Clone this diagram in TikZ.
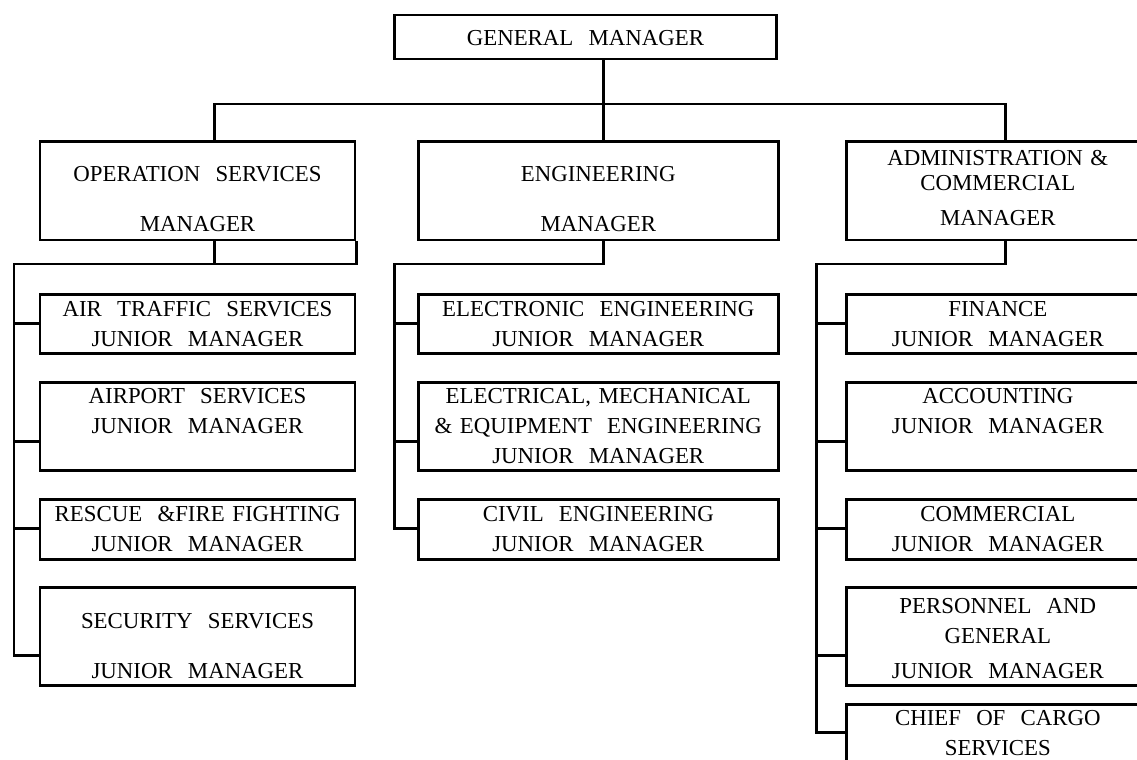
\documentclass[tikz,border=0pt]{standalone}
\usepackage{fontspec}
\setmainfont{Liberation Serif}
\newcommand\chartfont{\fontsize{13}{17.07}\selectfont}

\tikzset{
	box/.style={draw, line width=1.7pt, inner sep=0pt, align=center, font=\chartfont},
	link/.style={line width=1.7pt},
	leftcol/.style={text width=63mm},
	midcol/.style={text width=72mm},
	rightcol/.style={text width=60.46mm},
	% first baseline from the top / rest of the box
	rowfit/.style 2 args={text height=#1, text depth=#2}
}

\begin{document}
\begin{tikzpicture}[x=0.2mm, y=-0.2mm]
		%%%%% START %%%%%
		\useasboundingbox (0,0) rectangle (1137,760);
		\clip (0,0) rectangle (1137,760);
		
		\node[box, text width=76.48mm, rowfit={6mm}{2.8mm}] (gm) at (585.5,37) {GENERAL~~MANAGER};
		
		\node[box, leftcol, rowfit={8.04mm}{11.66mm}] (op) at (197.5,190.75) {OPERATION~~SERVICES\\[11.4pt]MANAGER};
		\node[box, midcol, rowfit={8.04mm}{11.66mm}] (eng) at (598.3,190.75) {ENGINEERING\\[11.4pt]MANAGER};
		\node[box, rightcol, rowfit={4.84mm}{14.86mm}] (ad) at (997.85,190.75) {ADMINISTRATION \&\\[-2.8pt]COMMERCIAL\\[2.8pt]MANAGER};
		
		% operation services
		\node[box, leftcol, rowfit={4.44mm}{7.32mm}] (atc) at (197.5,323.9) {AIR~~TRAFFIC~~SERVICES\\JUNIOR~~MANAGER};
		\node[box, leftcol, rowfit={4.2mm}{13.48mm}] (aps) at (197.5,426.5) {AIRPORT~~SERVICES\\JUNIOR~~MANAGER};
		\node[box, leftcol, rowfit={4.44mm}{7.46mm}] (rff) at (197.5,529.25) {RESCUE~~\&FIRE FIGHTING\\JUNIOR~~MANAGER};
		\node[box, leftcol, rowfit={8.26mm}{11.34mm}] (sec) at (197.5,636) {SECURITY~~SERVICES\\[11.4pt]JUNIOR~~MANAGER};
		
		% engineering
		\node[box, midcol, rowfit={4.44mm}{7.32mm}] (ele) at (598.3,323.9) {ELECTRONIC~~ENGINEERING\\JUNIOR~~MANAGER};
		\node[box, midcol, rowfit={4.2mm}{13.48mm}] (emq) at (598.3,426.5) {ELECTRICAL, MECHANICAL\\\&~EQUIPMENT~~ENGINEERING\\JUNIOR~~MANAGER};
		\node[box, midcol, rowfit={4.44mm}{7.46mm}] (civ) at (598.3,529.25) {CIVIL~~ENGINEERING\\JUNIOR~~MANAGER};
		
		% administration & commercial
		\node[box, rightcol, rowfit={4.44mm}{7.32mm}] (fin) at (997.85,323.9) {FINANCE\\JUNIOR~~MANAGER};
		\node[box, rightcol, rowfit={4.2mm}{13.48mm}] (acc) at (997.85,426.5) {ACCOUNTING\\JUNIOR~~MANAGER};
		\node[box, rightcol, rowfit={4.44mm}{7.46mm}] (com) at (997.85,529.25) {COMMERCIAL\\JUNIOR~~MANAGER};
		\node[box, rightcol, rowfit={5.26mm}{14.34mm}] (pag) at (997.85,636) {PERSONNEL~~AND\\GENERAL\\[2.8pt]JUNIOR~~MANAGER};
		\node[box, rightcol, rowfit={4.06mm}{7.7mm}] (cgo) at (997.85,734.1) {CHIEF~~OF~~CARGO\\SERVICES};
		
		\coordinate (trunk) at (603.3,104);
		\coordinate (opdrop) at (214.3,264);
		\coordinate (endrop) at (603.3,264);
		\coordinate (addrop) at (1005,264);
		\coordinate (opbus) at (14,264);
		\coordinate (enbus) at (394.3,264);
		\coordinate (adbus) at (816.7,264);
		\coordinate (r1) at (0,323.5);
		\coordinate (r2) at (0,441.7);
		\coordinate (r3) at (0,528.3);
		\coordinate (r4) at (0,655);
		\coordinate (r5) at (0,732);
		
		\draw[link] (gm.south -| trunk) -- (eng.north -| trunk);
		\draw[link] (op.north -| opdrop) |- (trunk) -| (ad.north -| addrop);
		
		\draw[link] (op.south -| opdrop) -- (opdrop);
		\draw[link] (op.south east) |- (opbus) |- (sec.west |- r4);
		\foreach \nd/\ry in {atc/r1, aps/r2, rff/r3}
			\draw[link] (opbus |- \ry) -- (\nd.west |- \ry);
		
		\draw[link] (eng.south -| endrop) |- (enbus) |- (civ.west |- r3);
		\foreach \nd/\ry in {ele/r1, emq/r2}
			\draw[link] (enbus |- \ry) -- (\nd.west |- \ry);
		
		\draw[link] (ad.south -| addrop) |- (adbus) |- (cgo.west |- r5);
		\foreach \nd/\ry in {fin/r1, acc/r2, com/r3, pag/r4}
			\draw[link] (adbus |- \ry) -- (\nd.west |- \ry);
		
		%%%%% END %%%%%
	\end{tikzpicture}
\end{document}
